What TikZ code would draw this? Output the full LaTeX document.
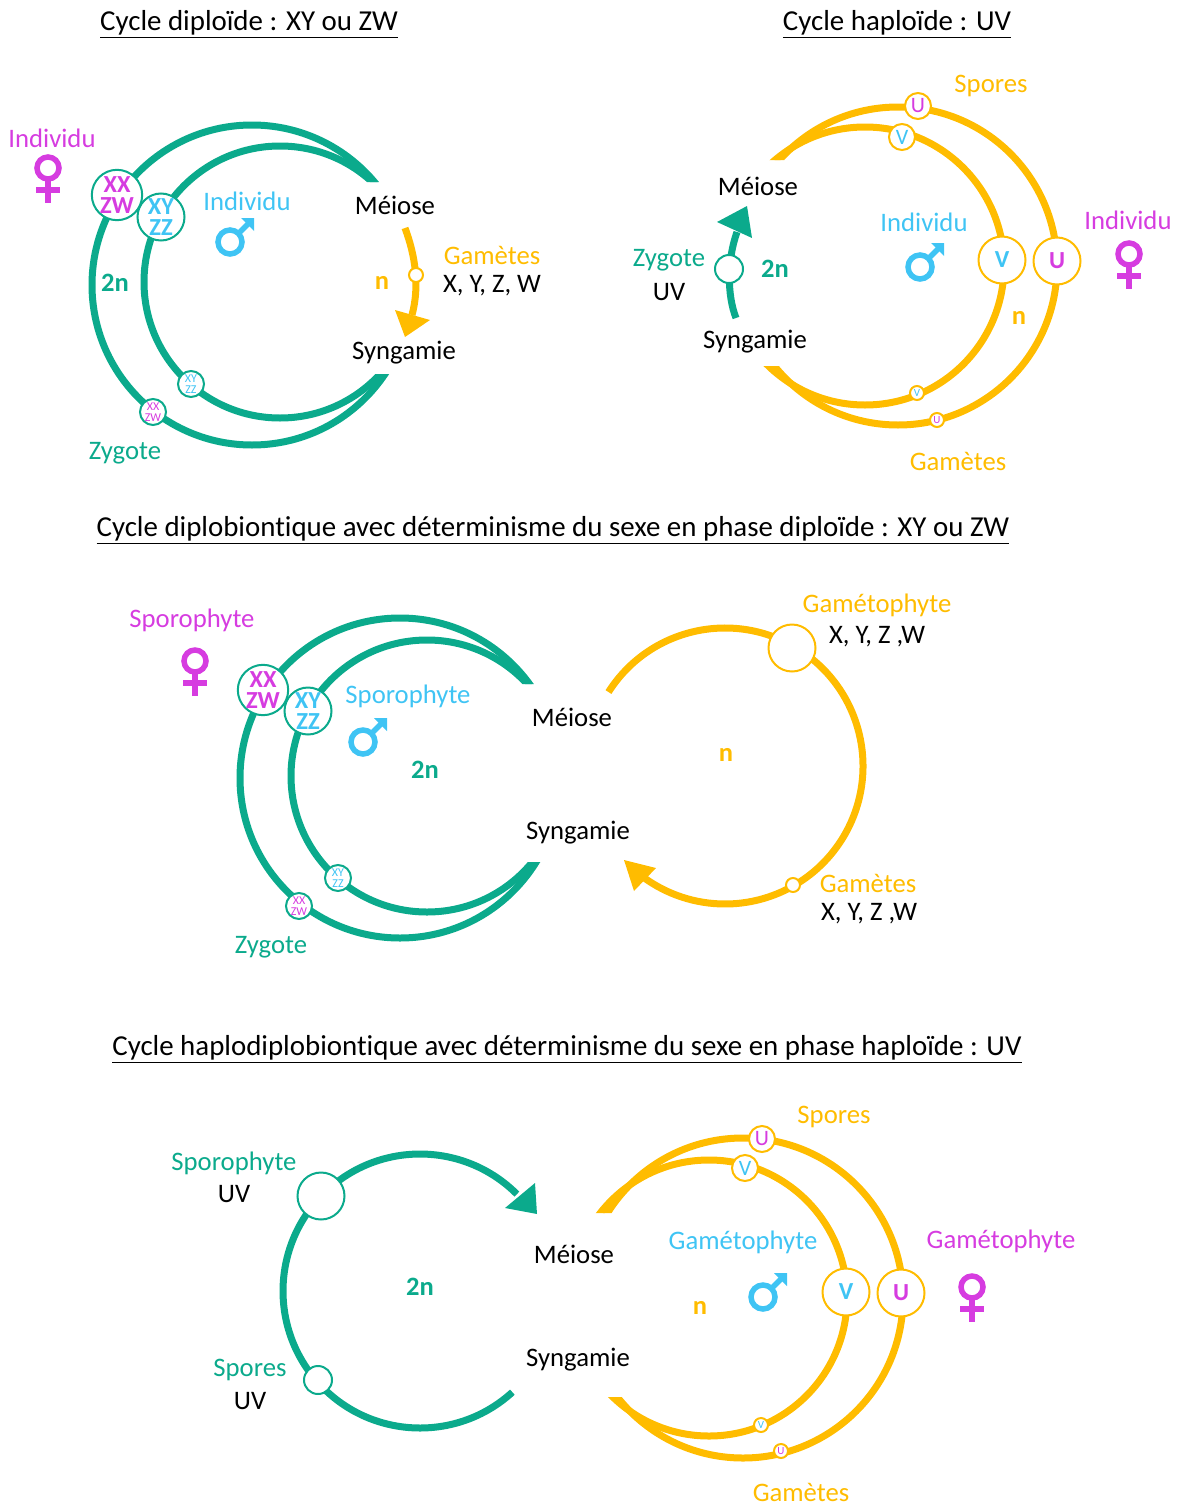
\documentclass[tikz,border=0pt]{standalone}
\usepackage{fontspec}
\setmainfont{Carlito}[Ligatures=NoCommon]
\definecolor{teal}{HTML}{0BAA8C}
\definecolor{gold}{HTML}{FFBC00}
\definecolor{mag}{HTML}{D63CE0}
\definecolor{cyn}{HTML}{3FC4F4}
\tikzset{
  lab/.style={font=\fontsize{26.7}{29}\selectfont,inner sep=0pt,anchor=center,yshift=-1pt},
  ttl/.style={font=\fontsize{28.9}{31}\selectfont,inner sep=0pt,anchor=center,yshift=-2pt},
  bld/.style={font=\fontsize{26.5}{29}\selectfont\bfseries,inner sep=0pt,anchor=center},
  ring/.style={line width=7pt,draw=#1,line cap=butt},
  bigc/.style={circle,draw=#1,fill=white,line width=2pt,minimum size=47pt,inner sep=0pt,align=center},
  midc/.style={circle,draw=#1,fill=white,line width=2pt,minimum size=26pt,inner sep=0pt,align=center},
  tinyc/.style={circle,draw=#1,fill=white,line width=2pt,minimum size=14pt,inner sep=0pt,align=center},
  bigt/.style={font=\fontsize{24.5}{21.5}\selectfont\bfseries},
  midt/.style={font=\fontsize{12}{11.5}\selectfont},
  venus/.pic={\draw[line width=5.5pt,mag] (0,11) circle[radius=11];
     \draw[line width=5.5pt,mag] (0,0) -- (0,-24) (-12,-11) -- (12,-11);},
  mars/.pic={\draw[line width=5.5pt,cyn] (-5,-4) circle[radius=12];
     \draw[line width=5.5pt,cyn] (4,5) -- (14,15);
     \fill[cyn] (19,20) -- (6,20) -- (19,7) -- cycle;},
}
\newcommand{\cres}[9]{% cx1 cy1 r1 cx2 cy2 r2 (rings), color, clip-polygon
  \begin{scope}\clip #8;
    \draw[ring=#7] (#1,-#2) circle[radius=#3];
    \draw[ring=#7] (#4,-#5) circle[radius=#6];
  \end{scope}#9}
\begin{document}
\begin{tikzpicture}[x=1pt,y=1pt]
\useasboundingbox (0,0) rectangle (1180,-1504);
% titles
\node[ttl] (t1) at (249,-22) {\underline{Cycle diploïde : XY ou ZW}};
\node[ttl] (t2) at (897,-22) {\underline{Cycle haploïde : UV}};
\node[ttl] (t3) at (553,-528) {\underline{Cycle diplobiontique avec déterminisme du sexe en phase diploïde : XY ou ZW}};
\node[ttl] (t4) at (567,-1047) {\underline{Cycle haplodiplobiontique avec déterminisme du sexe en phase haploïde : UV}};
% scene 1
\cres{252}{285}{160}{280}{282}{136}{teal}{(0,-100) -- (460,-100) -- (460,-182) -- (340,-182) -- (340,-374) -- (460,-374) -- (460,-460) -- (0,-460) -- cycle}{}
\draw[line width=7pt,gold] (405,-228) .. controls (415,-255) and (420,-285) .. (412,-315);
\fill[gold] (395,-310) -- (430,-320) -- (405,-337) -- cycle;
\node[midc=gold,minimum size=14pt] (a1) at (416,-275) {};
\node[bigc=teal,bigt,text=mag] (n1) at (117,-195) {XX\\ZW};
\node[bigc=teal,bigt,text=cyn] (n2) at (161,-217) {XY\\ZZ};
\node[midc=teal,midt,text=cyn] (n3) at (191,-384) {XY\\ZZ};
\node[midc=teal,midt,text=mag] (n4) at (153,-412) {XX\\ZW};
\node[lab,text=mag] (l1) at (52,-137) {Individu};
\node[lab,text=cyn] (l2) at (247,-200) {Individu};
\node[lab] (l3) at (395,-204) {Méiose};
\node[lab,text=gold] (l4) at (492,-254) {Gamètes};
\node[lab] (l5) at (492,-285) {X, Y, Z, W};
\node[bld,text=gold] (l6) at (382,-283) {n};
\node[lab] (l7) at (404,-352) {Syngamie};
\node[bld,text=teal] (l8) at (115,-283) {2n};
\node[lab,text=teal] (l9) at (125,-452) {Zygote};
\pic at (48,-179) {venus};
\pic at (235,-238) {mars};
% scene 2
\cres{898}{266}{159}{865}{266}{139}{gold}{(1100,-90) -- (760,-90) -- (760,-160) -- (830,-160) -- (830,-366) -- (760,-366) -- (760,-440) -- (1100,-440) -- cycle}{}
\draw[line width=7pt,teal] (736,-318) .. controls (727,-295) and (727,-260) .. (737,-232);
\fill[teal] (717,-222) -- (747,-206) -- (752,-238) -- cycle;
\node[midc=teal,minimum size=28pt] (a2) at (729,-269) {};
\node[bigc=gold,bigt,text=cyn] (m1) at (1002,-260) {V};
\node[bigc=gold,bigt,text=mag] (m2) at (1057,-261) {U};
\node[midc=gold,text=mag,font=\fontsize{22}{22}\selectfont] (m3) at (918,-106) {U};
\node[midc=gold,text=cyn,font=\fontsize{22}{22}\selectfont] (m4) at (902,-137) {V};
\node[tinyc=gold,text=cyn,font=\fontsize{11}{11}\selectfont] (m5) at (917,-393) {V};
\node[tinyc=gold,text=mag,font=\fontsize{11}{11}\selectfont] (m6) at (937,-420) {U};
\node[lab,text=gold] (p1) at (991,-85) {Spores};
\node[lab] (p2) at (758,-185) {Méiose};
\node[lab,text=cyn] (p3) at (924,-221) {Individu};
\node[lab,text=mag] (p4) at (1128,-219) {Individu};
\node[lab,text=teal] (p5) at (669,-259) {Zygote};
\node[lab] (p6) at (669,-291) {UV};
\node[bld,text=teal] (p7) at (775,-269) {2n};
\node[bld,text=gold] (p8) at (1019,-318) {n};
\node[lab] (p9) at (755,-341) {Syngamie};
\node[lab,text=gold] (p10) at (958,-460) {Gamètes};
\pic at (1129,-265) {venus};
\pic at (925,-263) {mars};
% scene 3
\cres{400}{778}{160}{427}{776}{136}{teal}{(200,-600) -- (600,-600) -- (600,-684) -- (480,-684) -- (480,-862) -- (600,-862) -- (600,-950) -- (200,-950) -- cycle}{}
\draw[ring=gold] (725,-766) ++(147.6:138) arc[start angle=147.6,end angle=-128.5,radius=138];
\fill[gold] (624,-860) -- (656,-868) -- (634,-891) -- cycle;
\node[bigc=gold] (q1) at (792,-648) {};
\node[midc=gold,minimum size=14pt] (q2) at (793,-885) {};
\node[bigc=teal,bigt,text=mag] (q3) at (263,-690) {XX\\ZW};
\node[bigc=teal,bigt,text=cyn] (q4) at (308,-711) {XY\\ZZ};
\node[midc=teal,midt,text=cyn] (q5) at (338,-878) {XY\\ZZ};
\node[midc=teal,midt,text=mag] (q6) at (299,-906) {XX\\ZW};
\node[lab,text=mag] (r1) at (192,-619) {Sporophyte};
\node[lab,text=cyn] (r2) at (408,-695) {Sporophyte};
\node[lab] (r3) at (572,-716) {Méiose};
\node[bld,text=teal] (r4) at (425,-770) {2n};
\node[lab] (r5) at (578,-832) {Syngamie};
\node[lab,text=teal] (r6) at (271,-946) {Zygote};
\node[lab,text=gold] (r7) at (877,-604) {Gamétophyte};
\node[lab] (r8) at (877,-636) {X, Y, Z ,W};
\node[bld,text=gold] (r9) at (726,-755) {n};
\node[lab,text=gold] (r10) at (868,-882) {Gamètes};
\node[lab] (r11) at (869,-913) {X, Y, Z ,W};
\pic at (195,-672) {venus};
\pic at (368,-738) {mars};
% scene 4
\draw[ring=teal] (420,-1291) ++(-47.6:137) arc[start angle=-47.6,end angle=-315,radius=137];
\fill[teal] (537,-1214) -- (505,-1208) -- (535,-1183) -- cycle;
\cres{743}{1298}{160}{709}{1298}{138}{gold}{(950,-1120) -- (590,-1120) -- (590,-1213) -- (660,-1213) -- (660,-1397) -- (590,-1397) -- (590,-1475) -- (950,-1475) -- cycle}{}
\node[bigc=teal] (s1) at (321,-1196) {};
\node[midc=teal,minimum size=28pt] (s2) at (318,-1380) {};
\node[bigc=gold,bigt,text=cyn] (s3) at (846,-1292) {V};
\node[bigc=gold,bigt,text=mag] (s4) at (901,-1293) {U};
\node[midc=gold,text=mag,font=\fontsize{22}{22}\selectfont] (s5) at (762,-1139) {U};
\node[midc=gold,text=cyn,font=\fontsize{22}{22}\selectfont] (s6) at (745,-1168) {V};
\node[tinyc=gold,text=cyn,font=\fontsize{11}{11}\selectfont] (s7) at (761,-1425) {V};
\node[tinyc=gold,text=mag,font=\fontsize{11}{11}\selectfont] (s8) at (781,-1451) {U};
\node[lab,text=gold] (u1) at (834,-1116) {Spores};
\node[lab,text=teal] (u2) at (234,-1162) {Sporophyte};
\node[lab] (u3) at (234,-1193) {UV};
\node[bld,text=teal] (u4) at (420,-1287) {2n};
\node[lab] (u5) at (574,-1253) {Méiose};
\node[lab,text=cyn] (u6) at (743,-1241) {Gamétophyte};
\node[lab,text=mag] (u7) at (1001,-1240) {Gamétophyte};
\node[bld,text=gold] (u8) at (700,-1308) {n};
\node[lab] (u9) at (578,-1359) {Syngamie};
\node[lab,text=teal] (u10) at (250,-1369) {Spores};
\node[lab] (u11) at (250,-1400) {UV};
\node[lab,text=gold] (u12) at (801,-1491) {Gamètes};
\pic at (972,-1298) {venus};
\pic at (768,-1293) {mars};
\end{tikzpicture}
\end{document}
